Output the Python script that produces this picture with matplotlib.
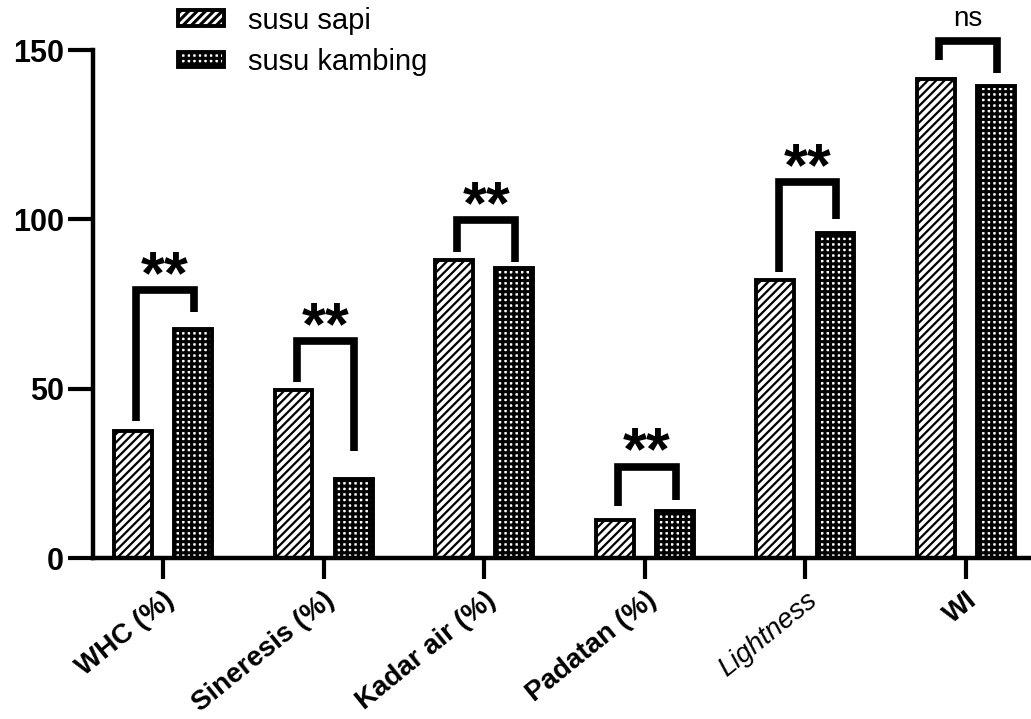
import numpy as np
import matplotlib.pyplot as plt

# data
categories = ["WHC (%)", "Sineresis (%)", "Kadar air (%)", "Padatan (%)", "Lightness", "WI"]
susu_sapi = [37.5, 49.5, 88.0, 11.3, 82.0, 141.5]
susu_kambing = [67.5, 23.3, 85.5, 13.8, 96.0, 139.5]

# significance brackets: top, left leg end, right leg end, label
bracket_top = [79.0, 64.0, 99.8, 27.0, 111.0, 152.8]
bracket_left = [40.5, 52.0, 90.5, 15.5, 84.5, 147.0]
bracket_right = [72.5, 31.5, 87.5, 17.0, 100.0, 143.2]
sig_labels = ["**", "**", "**", "**", "**", "ns"]

plt.rcParams['font.family'] = ['Liberation Sans', 'DejaVu Sans']

fig = plt.figure(figsize=(10.31, 7.19), dpi=100)
ax = fig.add_axes([93 / 1031, 1 - 558 / 719, 1 - 93 / 1031, 508 / 719])

x = np.arange(len(categories))
off = 0.187
w = 0.235

plt.rcParams['hatch.linewidth'] = 1.6
ax.bar(x - off, susu_sapi, w, color='white', edgecolor='black', linewidth=2.8,
       hatch='////', label='susu sapi', zorder=2)
plt.rcParams['hatch.linewidth'] = 2.2
ax.bar(x + off, susu_kambing, w, color='white', edgecolor='black', linewidth=2.8,
       hatch='+++', label='susu kambing', zorder=2)

for i in range(len(categories)):
    xl, xr = x[i] - off + 0.02, x[i] + off + 0.005
    ax.plot([xl, xl, xr, xr],
            [bracket_left[i], bracket_top[i], bracket_top[i], bracket_right[i]],
            color='black', lw=5.5, solid_joinstyle='miter', solid_capstyle='butt',
            clip_on=False, zorder=3)
    if sig_labels[i] == "**":
        ax.text((xl + xr) / 2, bracket_top[i] - 0.8, "**", ha='center', va='baseline',
                fontsize=44, fontweight='bold', clip_on=False)
    else:
        ax.text((xl + xr) / 2, bracket_top[i] + 2.5, sig_labels[i], ha='center',
                va='bottom', fontsize=20, clip_on=False)

ax.set_xlim(-0.436, 5.405)
ax.set_ylim(0, 150)
ax.set_yticks([0, 50, 100, 150])
ax.set_xticks(x)
ax.set_xticklabels(categories, rotation=39, ha='right', rotation_mode='anchor',
                   fontsize=20, fontweight='bold')
lbl = ax.get_xticklabels()[4]
lbl.set_fontweight('normal')
lbl.set_fontstyle('italic')

ax.tick_params(axis='y', length=18, width=3, labelsize=22, pad=3)
ax.tick_params(axis='x', length=15, width=3, pad=6)
for t in ax.get_yticklabels():
    t.set_fontweight('bold')

for s in ['top', 'right']:
    ax.spines[s].set_visible(False)
for s in ['left', 'bottom']:
    ax.spines[s].set_linewidth(3.2)

ax.legend(loc='upper left', bbox_to_anchor=(160 / 1031, 1.015), bbox_transform=fig.transFigure,
          frameon=False, fontsize=21, handlelength=1.6, handleheight=0.45,
          handletextpad=0.8, labelspacing=0.45, borderaxespad=0.2)

fig.savefig('out.png', dpi=100)
